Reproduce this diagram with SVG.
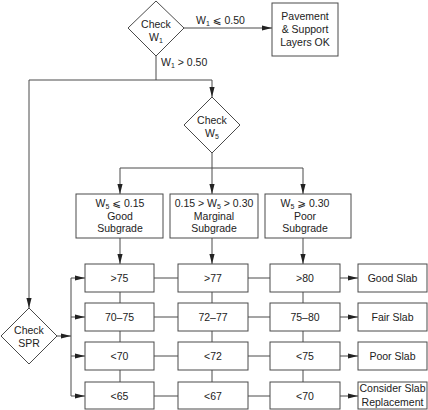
<svg xmlns="http://www.w3.org/2000/svg" width="428" height="410" viewBox="0 0 428 410">
<defs>
<style>
.n{fill:#fff;stroke:#4a4a4a;stroke-width:1}
.c{fill:none;stroke:#4a4a4a;stroke-width:1}
.a{marker-end:url(#ah)}
text{font-family:"Liberation Sans",Arial,"DejaVu Sans",sans-serif;font-size:10.5px;fill:#222}
.m{text-anchor:middle}
.s{font-size:7px}
</style>
<marker id="ah" markerUnits="userSpaceOnUse" viewBox="0 0 10 6" markerWidth="10" markerHeight="6" refX="10" refY="3" orient="auto">
<path d="M0,0.4 L10,3 L0,5.6 z" fill="#222"/>
</marker>
</defs>
<rect width="428" height="410" fill="#fff"/>
<g id="connectors">
<line class="c a" x1="184" y1="28" x2="272" y2="28"/>
<polyline class="c" points="156,56 156,80"/>
<polyline class="c a" points="156,80 212,80 212,97"/>
<polyline class="c a" points="156,80 29,80 29,308"/>
<line class="c" x1="212" y1="153" x2="212" y2="168"/>
<polyline class="c a" points="212,168 120,168 120,194"/>
<line class="c a" x1="212" y1="168" x2="212" y2="194"/>
<polyline class="c a" points="212,168 303,168 303,194"/>
<line class="c a" x1="120" y1="238" x2="120" y2="264"/>
<line class="c a" x1="212" y1="238" x2="212" y2="264"/>
<line class="c a" x1="303" y1="238" x2="303" y2="264"/>
<line class="c a" x1="57" y1="336" x2="71" y2="336"/>
<line class="c" x1="71" y1="278" x2="71" y2="396"/>
<line class="c a" x1="71" y1="278" x2="85" y2="278"/>
<line class="c a" x1="71" y1="317" x2="85" y2="317"/>
<line class="c a" x1="71" y1="356" x2="85" y2="356"/>
<line class="c a" x1="71" y1="396" x2="85" y2="396"/>
<g class="c">
<line x1="154" y1="278" x2="178" y2="278"/><line x1="248" y1="278" x2="270" y2="278"/>
<line x1="154" y1="317" x2="178" y2="317"/><line x1="248" y1="317" x2="270" y2="317"/>
<line x1="154" y1="356" x2="178" y2="356"/><line x1="248" y1="356" x2="270" y2="356"/>
<line x1="154" y1="396" x2="178" y2="396"/><line x1="248" y1="396" x2="270" y2="396"/>
<line x1="120" y1="292" x2="120" y2="303"/><line x1="120" y1="331" x2="120" y2="342"/><line x1="120" y1="370" x2="120" y2="382"/>
<line x1="212" y1="292" x2="212" y2="303"/><line x1="212" y1="331" x2="212" y2="342"/><line x1="212" y1="370" x2="212" y2="382"/>
<line x1="303" y1="292" x2="303" y2="303"/><line x1="303" y1="331" x2="303" y2="342"/><line x1="303" y1="370" x2="303" y2="382"/>
</g>
<line class="c a" x1="340" y1="278" x2="358" y2="278"/>
<line class="c a" x1="340" y1="317" x2="358" y2="317"/>
<line class="c a" x1="340" y1="356" x2="358" y2="356"/>
<line class="c a" x1="340" y1="396" x2="358" y2="396"/>
<text x="196" y="24">W<tspan class="s" dy="2">1</tspan><tspan dy="-2"> ⩽ 0.50</tspan></text>
<text x="161" y="66">W<tspan class="s" dy="2">1</tspan><tspan dy="-2"> &gt; 0.50</tspan></text>
</g>
<g id="checkW1">
<polygon class="n" points="156,1 184,28 156,56 128,28"/>
<text class="m" x="156" y="28">Check</text>
<text class="m" x="156" y="41">W<tspan class="s" dy="2">1</tspan></text>
</g>
<g id="pavementOK">
<rect class="n" x="272" y="3" width="66" height="53"/>
<text class="m" x="305" y="20">Pavement</text>
<text class="m" x="305" y="33">&amp; Support</text>
<text class="m" x="305" y="46">Layers OK</text>
</g>
<g id="checkW5">
<polygon class="n" points="212,97 240,125 212,153 184,125"/>
<text class="m" x="212" y="124">Check</text>
<text class="m" x="212" y="137">W<tspan class="s" dy="2">5</tspan></text>
</g>
<g id="goodSubgrade">
<rect class="n" x="76" y="194" width="87" height="44"/>
<text class="m" x="120" y="206.5">W<tspan class="s" dy="2">5</tspan><tspan dy="-2"> ⩽ 0.15</tspan></text>
<text class="m" x="120" y="219.5">Good</text>
<text class="m" x="120" y="232">Subgrade</text>
</g>
<g id="marginalSubgrade">
<rect class="n" x="170" y="194" width="88" height="44"/>
<text class="m" x="214" y="206.5">0.15 &gt; W<tspan class="s" dy="2">5</tspan><tspan dy="-2"> &gt; 0.30</tspan></text>
<text class="m" x="214" y="219.5">Marginal</text>
<text class="m" x="214" y="232">Subgrade</text>
</g>
<g id="poorSubgrade">
<rect class="n" x="265" y="194" width="86" height="44"/>
<text class="m" x="305" y="206.5">W<tspan class="s" dy="2">5</tspan><tspan dy="-2"> ⩾ 0.30</tspan></text>
<text class="m" x="305" y="219.5">Poor</text>
<text class="m" x="305" y="232">Subgrade</text>
</g>
<g id="checkSPR">
<polygon class="n" points="29,308 57,336 29,364 1,336"/>
<text class="m" x="29" y="334">Check</text>
<text class="m" x="29" y="347">SPR</text>
</g>
<g id="g75"><rect class="n" x="85" y="264" width="69" height="28"/><text class="m" x="119.5" y="282">&gt;75</text></g>
<g id="f7075"><rect class="n" x="85" y="303" width="69" height="28"/><text class="m" x="119.5" y="321">70–75</text></g>
<g id="p70"><rect class="n" x="85" y="342" width="69" height="28"/><text class="m" x="119.5" y="360">&lt;70</text></g>
<g id="r65"><rect class="n" x="85" y="382" width="69" height="27"/><text class="m" x="119.5" y="400">&lt;65</text></g>
<g id="g77"><rect class="n" x="178" y="264" width="70" height="28"/><text class="m" x="213" y="282">&gt;77</text></g>
<g id="f7277"><rect class="n" x="178" y="303" width="70" height="28"/><text class="m" x="213" y="321">72–77</text></g>
<g id="p72"><rect class="n" x="178" y="342" width="70" height="28"/><text class="m" x="213" y="360">&lt;72</text></g>
<g id="r67"><rect class="n" x="178" y="382" width="70" height="27"/><text class="m" x="213" y="400">&lt;67</text></g>
<g id="g80"><rect class="n" x="270" y="264" width="70" height="28"/><text class="m" x="305" y="282">&gt;80</text></g>
<g id="f7580"><rect class="n" x="270" y="303" width="70" height="28"/><text class="m" x="305" y="321">75–80</text></g>
<g id="p75"><rect class="n" x="270" y="342" width="70" height="28"/><text class="m" x="305" y="360">&lt;75</text></g>
<g id="r70"><rect class="n" x="270" y="382" width="70" height="27"/><text class="m" x="305" y="400">&lt;70</text></g>
<g id="goodSlab"><rect class="n" x="358" y="264" width="69" height="28"/><text class="m" x="392.5" y="282">Good Slab</text></g>
<g id="fairSlab"><rect class="n" x="358" y="303" width="69" height="28"/><text class="m" x="392.5" y="321">Fair Slab</text></g>
<g id="poorSlab"><rect class="n" x="358" y="342" width="69" height="28"/><text class="m" x="392.5" y="360">Poor Slab</text></g>
<g id="replaceSlab"><rect class="n" x="358" y="382" width="69" height="27"/><text class="m" x="392.5" y="392">Consider Slab</text><text class="m" x="392.5" y="406">Replacement</text></g>
</svg>
